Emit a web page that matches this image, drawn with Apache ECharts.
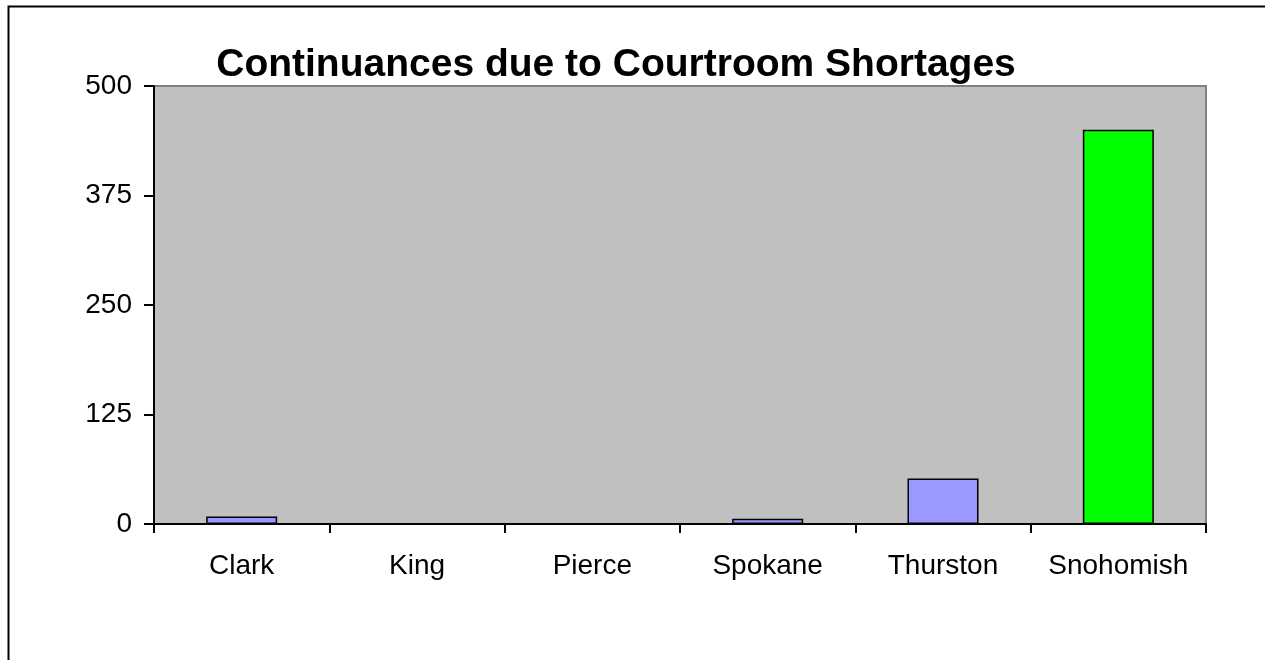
<!DOCTYPE html>
<html>
<head>
<meta charset="utf-8">
<script src="https://cdn.jsdelivr.net/npm/echarts@6/dist/echarts.min.js"></script>
<style>
html,body{margin:0;padding:0;background:#fff;}
#chart{width:1265px;height:660px;}
</style>
</head>
<body>
<div id="chart"></div>
<script>
const title = "Continuances due to Courtroom Shortages";
const categories = ["Clark", "King", "Pierce", "Spokane", "Thurston", "Snohomish"];
const values = [8.5, 0, 0, 6, 52, 450];
const yTicks = [0, 125, 250, 375, 500];
const highlighted = "Snohomish";

const chart = echarts.init(document.getElementById('chart'), null, {renderer: 'canvas'});
const font = '"Liberation Sans", Arial, sans-serif';
chart.setOption({
  animation: false,
  backgroundColor: '#ffffff',
  title: {
    text: title,
    left: 611, top: 41, textAlign: 'center',
    textStyle: {fontFamily: font, fontSize: 39, fontWeight: 'bold', color: '#000'}
  },
  graphic: [{
    type: 'rect', left: 6, top: 4, z: 100,
    shape: {width: 1300, height: 700},
    style: {fill: 'none', stroke: '#000', lineWidth: 2}
  }],
  grid: {
    left: 154, right: 59, top: 86, bottom: 136,
    show: true, backgroundColor: '#c0c0c0', borderColor: '#808080', borderWidth: 2
  },
  xAxis: {
    type: 'category', data: categories,
    axisLine: {lineStyle: {color: '#000', width: 2}},
    axisTick: {show: true, interval: 0, length: 9, lineStyle: {color: '#000', width: 2}},
    axisLabel: {interval: 0, fontFamily: font, fontSize: 28, color: '#000', margin: 28}
  },
  yAxis: {
    type: 'value', min: yTicks[0], max: yTicks[yTicks.length - 1], interval: yTicks[1] - yTicks[0],
    axisLine: {show: true, lineStyle: {color: '#000', width: 2}},
    axisTick: {show: true, length: 10, lineStyle: {color: '#000', width: 2}},
    splitLine: {show: false},
    axisLabel: {fontFamily: font, fontSize: 28, color: '#000', margin: 22}
  },
  series: [{
    type: 'bar',
    barWidth: '40.5%',
    data: values.map((v, i) => ({
      value: v,
      itemStyle: {color: categories[i] === highlighted ? '#00ff00' : '#9999ff'}
    })),
    itemStyle: {borderColor: '#000', borderWidth: 1.5}
  }]
});
</script>
</body>
</html>
